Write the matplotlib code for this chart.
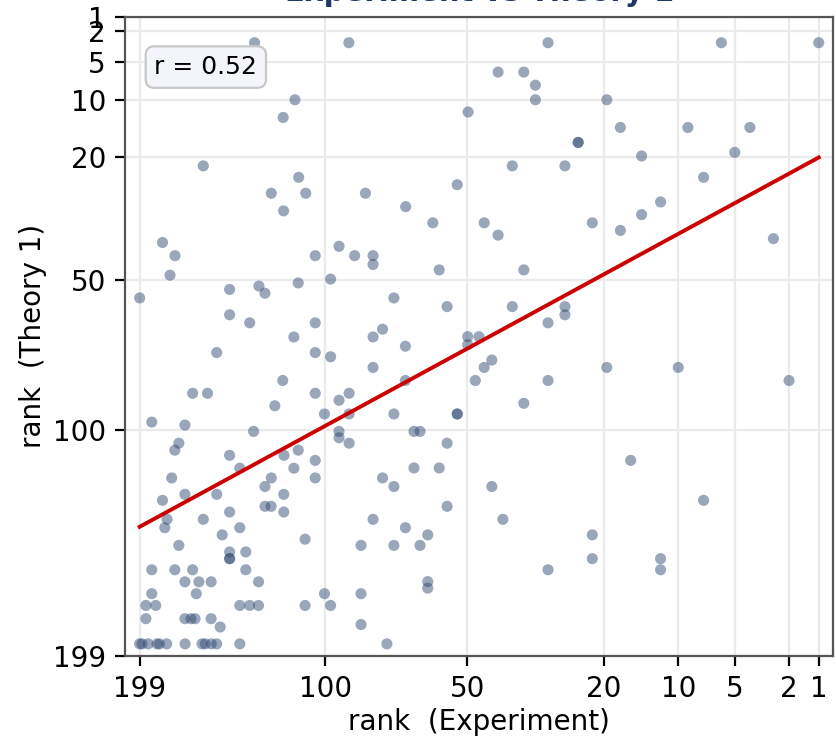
import numpy as np
import matplotlib
matplotlib.use('Agg')
import matplotlib.pyplot as plt

# ranks (Experiment on x, Theory 1 on y)
rank_experiment = [
    133, 113.5, 119, 160.5, 111.8, 124.7, 108.6, 118.8, 90.3,
    30.3, 41.8, 35.6, 33, 33, 49.8, 24.4, 24.4, 38.3, 26.9, 52.9, 83.8, 69.2, 60.3, 45.4, 21.9,
    6, 1, 19.5, 17.4, 9, 4, 14.4, 5, 7.5, 12, 14.4,
    184.6, 177, 180, 199, 146, 130.8, 127.8, 112, 104.4, 94.3, 88, 97.8, 146, 135.5, 104.4,
    114, 153, 104.4, 97.8, 119.2, 166.6, 158.1, 104.4, 94.3, 90.2, 123, 100.4, 90.2, 191.3,
    171.1, 133.5, 94.3, 94.3,
    41.8, 80.9, 80.9, 58.3, 35.6, 73.3, 55.9, 38.3, 26.9, 26.9, 30.3, 77.4, 80.9, 69.3, 49.9,
    46.8, 49.9, 43.4, 45.4, 80.9, 69.3, 47.8, 30.3, 35.6, 73.3, 52.9, 52.9, 66.4, 64.4,
    17.4, 2.7, 19.5, 10, 2,
    174.7, 177.1, 146, 179, 140.6, 171.1, 153, 184.6, 181.8, 183.2, 160.5, 146, 140.6, 150,
    174.7, 146, 146, 146, 137.5, 191.3, 177.1, 166.6, 137.5, 171.1, 163, 156.1, 131, 164.5,
    191.3, 195, 188.8, 140.6, 135.5, 131, 108.9, 108.9, 100.4, 97.8, 195, 171.1, 167.6, 165.2,
    156.1, 151.1, 118.6, 112, 104.4, 104.4, 114, 124.7, 127.8, 118.7, 127.8, 124.8, 118.7, 90.2,
    199, 197.5, 193.6, 188, 186.5, 182, 171, 161.2, 159.4, 156, 153, 140.6, 75.8,
    55.9, 66.4, 58.3, 77.4, 73.3, 55.9, 43.4, 80.9, 69.3, 61.9, 40.6, 73.3, 64.4, 85.5, 21.9,
    21.9, 30.3, 61.9, 61.9, 85.5, 85.5,
    15.9, 7.5, 12, 12,
]
rank_theory = [
    3, 10, 12.8, 21.8, 24.2, 27.7, 27.7, 31.8, 3,
    3, 6.2, 6.2, 7.9, 10, 11.9, 17.2, 17.2, 21.8, 21.8, 25.8, 27.7, 30.8, 34.7, 34.7, 34.7,
    3, 3, 10, 14.5, 14.5, 14.5, 19.8, 19.1, 24.2, 29.7, 32.7,
    39.7, 43.2, 48.6, 55.2, 52.7, 51.7, 53.8, 50.8, 43.2, 40.7, 43.2, 49.7, 60.3, 62.8, 62.8,
    67.3, 72.4, 72.4, 73.8, 81.9, 86.4, 86.4, 86.4, 88.9, 86.4, 90.9, 93.9, 93.9, 96.9,
    98, 100.4, 100.4, 102.8,
    37.8, 43.2, 45.6, 47.1, 47.1, 55.2, 57.8, 57.8, 57.8, 60.3, 62.8, 64.8, 67.3, 70.3, 67.2,
    67.2, 69.8, 74.9, 77.4, 77.4, 81.9, 81.9, 81.9, 90, 93.9, 93.9, 93.9, 100.4, 100.4,
    36.6, 38.7, 77.4, 77.4, 81.9,
    104.9, 107.6, 109.6, 118.6, 114.7, 125.3, 125.3, 127.8, 135.8, 139.4, 135.8, 132.7, 139.4, 142.5,
    147.1, 150, 153, 153, 150, 158, 158, 158, 158, 163.5, 163.5, 163.5, 163.5, 169,
    169, 174.5, 174.5, 174.5, 174.5, 174.5, 174.5, 144.4, 169, 174.5, 180.8, 180.8, 180.8, 180.8,
    180.8, 184.8, 109.6, 107.6, 111.6, 118.6, 114.7, 118.6, 122.1, 125.3, 130.3, 130.3, 132.7, 104.9,
    193, 193, 193, 193, 193, 193, 193, 193, 193, 193, 193, 193, 193,
    104.9, 114.6, 114.6, 118.6, 122.1, 130.3, 122.1, 135.8, 139.4, 142.5, 135.8, 147.1, 147.1, 147.1, 142.5,
    153, 158, 163.4, 166.4, 169, 183.6,
    111.6, 127.8, 153, 158,
]

# fitted line, end points
fit_experiment = [199, 1]
fit_theory = [139, 20.1]

r_value = 0.52
tick_ranks = [1, 2, 5, 10, 20, 50, 100, 199]
n_max = 199


def fwd_x(r):
    return np.power(np.clip(r, 1e-9, None), 0.4)


def inv_x(t):
    return np.power(np.clip(t, 1e-9, None), 2.5)


def fwd_y(r):
    return np.power(np.clip(r, 1e-9, None), 0.6)


def inv_y(t):
    return np.power(np.clip(t, 1e-9, None), 1 / 0.6)


fig = plt.figure(figsize=(4.18, 3.7), dpi=200)
fig.subplots_adjust(left=0.150, right=0.9964, top=0.9774, bottom=0.1135)
ax = fig.add_subplot(111)

ax.set_xscale('function', functions=(fwd_x, inv_x))
ax.set_yscale('function', functions=(fwd_y, inv_y))

ax.scatter(rank_experiment, rank_theory, s=16, color='#2d4771', alpha=0.48,
           edgecolors='none', zorder=3)
ax.plot(fit_experiment, fit_theory, color='#cc0000', lw=1.4, zorder=4)

# x gets a small margin in transformed space, y is flush
t_lo, t_hi = fwd_x(1), fwd_x(n_max)
m = 0.021 * (t_hi - t_lo)
ax.set_xlim(inv_x(t_hi + m), inv_x(t_lo - m))
ax.set_ylim(n_max, 1)

ax.set_xticks(tick_ranks)
ax.set_xticklabels([str(t) for t in tick_ranks])
ax.set_yticks(tick_ranks)
ax.set_yticklabels([str(t) for t in tick_ranks])
ax.minorticks_off()

ax.grid(True, color='#ebebeb', lw=0.8, zorder=0)
ax.set_axisbelow(True)
for sp in ax.spines.values():
    sp.set_color('#555555')
    sp.set_linewidth(0.8)

ax.tick_params(labelsize=10, length=3.5, width=0.8)
ax.set_xlabel('rank  (Experiment)', fontsize=10, labelpad=1.5)
ax.set_ylabel('rank  (Theory 1)', fontsize=10, labelpad=2)
ax.set_title('Experiment vs Theory 1', fontsize=10.5, fontweight='bold',
             color='#1f3864', pad=5.5)

ax.text(0.041, 0.94, 'r = %.2f' % r_value, transform=ax.transAxes,
        ha='left', va='top', fontsize=9, zorder=5,
        bbox=dict(boxstyle='round,pad=0.35', facecolor='#f4f5fa',
                  edgecolor='#c8c8c8', lw=0.8))

fig.savefig('out.png', dpi=200)
